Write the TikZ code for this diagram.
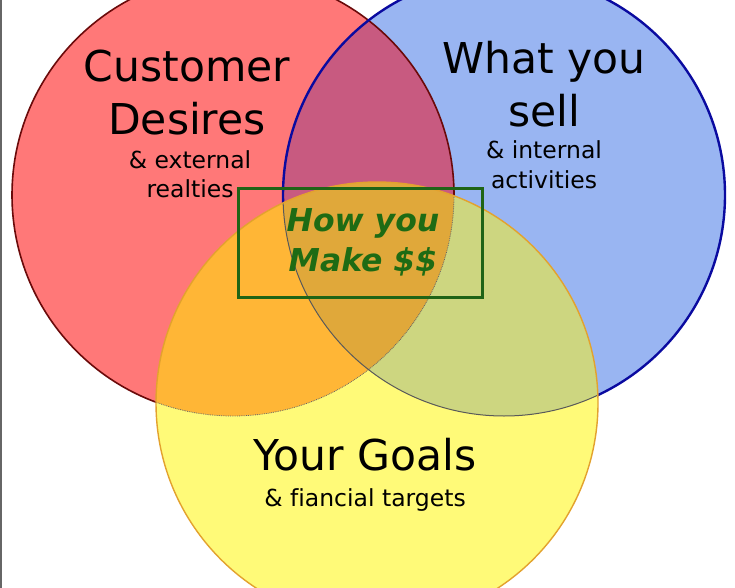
\documentclass[tikz,border=0pt]{standalone}
\usepackage{fontspec}
\setmainfont{DejaVu Sans}[Ligatures=NoCommon]
\usetikzlibrary{positioning}

\definecolor{redfill}{HTML}{FF7878}
\definecolor{bluefill}{HTML}{99B5F2}
\definecolor{yelfill}{HTML}{FFFA78}
\definecolor{rbfill}{HTML}{C85A80}
\definecolor{ryfill}{HTML}{FFB636}
\definecolor{byfill}{HTML}{CDD680}
\definecolor{allfill}{HTML}{E0A83A}
\definecolor{redline}{HTML}{6B0A0A}
\definecolor{blueline}{HTML}{0A0AA0}
\definecolor{yelline}{HTML}{E3A22E}
\definecolor{boxgreen}{HTML}{1F6416}
\definecolor{textgreen}{HTML}{1E6B14}

\begin{document}
\begin{tikzpicture}[x=1pt, y=-1pt,
  title/.style={font=\fontsize{42.5}{53}\selectfont, align=center, anchor=base, inner sep=0pt},
  sub/.style={font=\fontsize{23.5}{29}\selectfont, align=center, anchor=base, inner sep=0pt},
  money/.style={draw=boxgreen, line width=3pt, minimum width=244pt, minimum height=109pt,
    align=center, text=textgreen, font=\fontsize{31.5}{40}\selectfont\bfseries\itshape}
]
\useasboundingbox (0,0) rectangle (735,588);
\fill[white] (0,0) rectangle (735,588);
\def\rr{221pt}
\coordinate (red) at (233,195);
\coordinate (blue) at (504,195);
\coordinate (yel) at (377,403);

% circles and overlaps
\fill[redfill] (red) circle[radius=\rr];
\fill[bluefill] (blue) circle[radius=\rr];
\fill[yelfill] (yel) circle[radius=\rr];
\begin{scope}
  \clip (red) circle[radius=\rr];
  \fill[rbfill] (blue) circle[radius=\rr];
  \fill[ryfill] (yel) circle[radius=\rr];
\end{scope}
\begin{scope}
  \clip (blue) circle[radius=\rr];
  \fill[byfill] (yel) circle[radius=\rr];
  \clip (red) circle[radius=\rr];
  \fill[allfill] (yel) circle[radius=\rr];
\end{scope}

% outlines
\begin{scope}[even odd rule]
  \clip (-20,-20) rectangle (760,610) (yel) circle[radius=\rr];
  \draw[redline, line width=1.6pt] (red) circle[radius=\rr];
  \draw[blueline, line width=2.4pt] (blue) circle[radius=\rr];
\end{scope}
\begin{scope}
  \clip (yel) circle[radius=\rr];
  \draw[black!60, line width=0.8pt, densely dotted] (red) circle[radius=\rr];
  \draw[black!65, line width=1pt] (blue) circle[radius=\rr];
\end{scope}
\draw[yelline, line width=1.4pt] (yel) circle[radius=\rr];
\draw[black!60, line width=2pt] (1,0) -- (1,588);

% labels
\node[title] (desires) at (187,135) {Customer\\Desires};
\node[sub] (external) at (190,197) {\& external\\realties};
\node[title] (sell) at (544,127) {What you\\sell};
\node[sub] (internal) at (544,188) {\& internal\\activities};
\node[title] (goals) at (365,470) {Your Goals};
\node[sub] (targets) at (365,506) {\& fiancial targets};

\node[money] (make) at (360,242.5) {\hspace*{6pt}How you\\\hspace*{6pt}Make \$\$};
\end{tikzpicture}
\end{document}
